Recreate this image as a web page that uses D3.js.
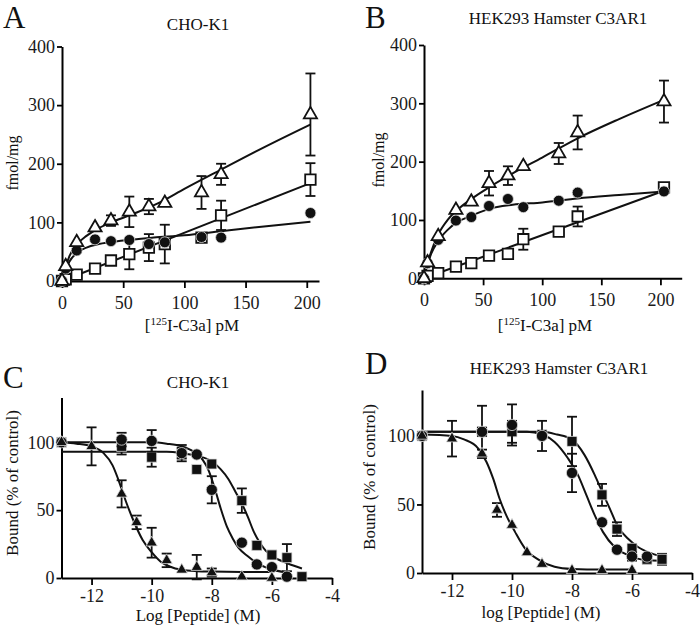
<!DOCTYPE html>
<html>
<head>
<meta charset="utf-8">
<script src="https://cdn.jsdelivr.net/npm/d3@7"></script>
<style>
  body { margin: 0; background: #fff; }
  svg { display: block; font-family: "Liberation Serif", "Times New Roman", serif; }
</style>
</head>
<body>
<svg id="chart" width="700" height="628"></svg>
<script>
// ---- saturation binding (A, B): x = [125I-C3a] pM ----
const concA = [0, 3, 12, 27, 40, 55, 71, 84, 114, 130, 203];
const totalA = [0, 25, 66, 91, 103, 118, 127, 133, 151, 182, 284];
const totalAErr = [0, 0, 0, 0, 9, 26, 13, 0, 28, 18, 70];
const specificA = [0, 21, 52, 71, 68, 70, 63, 66, 75, 74, 116];
const specificAErr = [0, 0, 3, 0, 0, 0, 0, 0, 4, 0, 0];
const nonspecA = [0, 3, 11, 21, 35, 46, 57, 63, 74, 112, 173];
const nonspecAErr = [0, 0, 0, 0, 4, 26, 23, 33, 5, 25, 28];

const concB = [0, 3, 12, 27, 40, 55, 71, 84, 114, 130, 203];
const totalB = [0, 27, 72, 117, 131, 163, 176, 192, 214, 250, 303];
const totalBErr = [0, 0, 0, 0, 0, 21, 16, 0, 18, 29, 36];
const specificB = [0, 26, 66, 99, 105, 124, 136, 122, 133, 147, 149];
const specificBErr = [0, 0, 0, 0, 0, 0, 0, 0, 0, 0, 0];
const nonspecB = [0, 4, 9, 20, 26, 39, 42, 67, 80, 106, 156];
const nonspecBErr = [0, 0, 0, 0, 0, 4, 0, 18, 0, 17, 0];

// fitted curves, [x, y]
const fitTotalA = [[0,0],[3,24],[6,42],[12,62],[20,77],[30,90],[45,104],[60,116],[80,134],[100,157],[130,190],[165,228],[203,267]];
const fitSpecificA = [[0,0],[3,20],[6,33],[12,48],[20,57],[30,63],[50,69],[75,74],[100,78],[130,85],[165,93],[203,101]];
const fitNonspecA = [[0,0],[203,167]];
const fitTotalB = [[0,0],[3,25],[6,45],[12,75],[20,100],[27,115],[40,136],[55,156],[75,180],[100,207],[130,240],[165,273],[203,306]];
const fitSpecificB = [[0,0],[3,24],[6,42],[12,64],[20,83],[27,95],[40,107],[55,119],[75,126],[100,130],[130,137],[165,143],[203,149]];
const fitNonspecB = [[0,0],[203,150]];

// ---- competition binding (C, D): x = log [Peptide] (M) ----
const logTriC = [-13, -12, -11, -10.5, -10, -9.5, -9, -8.5, -8, -7, -6];
const triC = [100, 97, 62, 41, 26, 13, 6, 8, 4, 1, 0];
const triCErr = [0, 14, 10, 5, 11, 5, 0, 9, 3, 0, 0];
const logCircC = [-13, -11, -10, -9, -8.5, -8, -7, -6.5, -6, -5.5];
const circC = [100, 102, 101, 92, 91, 65, 26, 10, 8, 1];
const circCErr = [0, 5, 8, 4, 0, 10, 0, 0, 0, 0];
const logSqC = [-13, -11, -10, -9, -8.5, -8, -7, -6.5, -6, -5.5, -5];
const sqC = [100, 97, 89, 92, 80, 84, 57, 24, 17, 15, 1];
const sqCErr = [0, 6, 7, 6, 0, 0, 9, 3, 3, 10, 0];

const logTriD = [-13, -12, -11, -10.5, -10, -9.5, -9, -8, -7, -6];
const triD = [100, 98, 87, 46, 35, 15, 6.5, 2, 2, 2];
const triDErr = [0, 13, 3, 5, 0, 0, 0, 0, 0, 0];
const logCircD = [-13, -11, -10, -9, -8, -7, -6.5, -6, -5.5];
const circD = [100, 103, 108, 100, 73, 37, 17, 12, 12];
const circDErr = [0, 3, 15, 11, 14, 0, 0, 3, 0];
const logSqD = [-13, -11, -10, -9, -8, -7, -6.5, -6, -5.5, -5];
const sqD = [100, 103, 103, 101, 96, 57, 32, 18, 10, 10];
const sqDErr = [0, 19, 8, 0, 18, 8, 5, 3, 3, 4];

const fitTriC = [[-13,100],[-12.5,99],[-12,97],[-11.6,92],[-11.3,83],[-11.1,72],[-10.85,56],[-10.6,42],[-10.3,28],[-10,19],[-9.7,12],[-9.4,8.5],[-9,6],[-8.5,5],[-8,4.7],[-7,4.5],[-6,4.5]];
const fitCircC = [[-13,100],[-10,100],[-9.5,99],[-9,97],[-8.6,93],[-8.3,87],[-8.1,79],[-7.9,66],[-7.7,51],[-7.5,38],[-7.3,29],[-7.1,22],[-6.8,16],[-6.5,11],[-6.1,7],[-5.5,4]];
const fitSqC = [[-13,93],[-9.5,93],[-9,92],[-8.5,90],[-8,86],[-7.7,80],[-7.45,73],[-7.2,63],[-7,55],[-6.8,45],[-6.6,34],[-6.4,26],[-6.2,20],[-5.9,15],[-5.45,10.5],[-5,7]];
const fitTriD = [[-13,101],[-12,100],[-11.6,97.5],[-11.13,91],[-10.85,81],[-10.63,69],[-10.41,54],[-10.19,42],[-9.9,30],[-9.57,18],[-9.12,9.7],[-8.58,4.6],[-8,3],[-7,2.5],[-6,2.5]];
const fitCircD = [[-13,103],[-9.5,103],[-9,101],[-8.58,95.6],[-8.13,83.5],[-7.8,71.4],[-7.52,56.8],[-7.24,42],[-6.97,30],[-6.58,19],[-6.13,13],[-5.58,9.5],[-5,9]];
const fitSqD = [[-13,103],[-9,103],[-8.5,101],[-8.02,97.6],[-7.58,86],[-7.24,71.4],[-7.02,60.5],[-6.74,47],[-6.47,33.7],[-6.13,25],[-5.8,19],[-5.35,14.3],[-5,12]];

const satTicksX = [0, 50, 100, 150, 200];
const satTicksY = [0, 100, 200, 300, 400];
const compTicksX = [-12, -10, -8, -6, -4];
const compTicksY = [0, 50, 100];

const svg = d3.select('#chart');
svg.append('rect').attr('width', 700).attr('height', 628).attr('fill', '#fff');

const shapes = { tri: d3.symbolTriangle, sq: d3.symbolSquare, circ: d3.symbolCircle };

function drawPanel(p) {
    const x = d3.scaleLinear().domain(p.xDomain).range(p.xRange);
    const y = d3.scaleLinear().domain(p.yDomain).range(p.yRange);
    const g = svg.append('g');

    // axes
    const xAxis = g.append('g')
        .attr('transform', `translate(0,${p.yRange[0]})`)
        .call(d3.axisBottom(x).tickValues(p.xTicks).tickSize(7).tickSizeOuter(0)
            .tickPadding(p.xPad).tickFormat(d => String(d)));
    const yAxis = g.append('g')
        .attr('transform', `translate(${p.xRange[0]},0)`)
        .call(d3.axisLeft(y).tickValues(p.yTicks).tickSize(5).tickSizeOuter(0)
            .tickPadding(2).tickFormat(d => String(d)));
    [xAxis, yAxis].forEach(a => {
        a.select('.domain').attr('stroke', '#000').attr('stroke-width', 2);
        a.selectAll('.tick line').attr('stroke', '#000').attr('stroke-width', 1.8);
        a.selectAll('.tick text').attr('fill', '#1a1a1a')
            .style('font-family', '"Liberation Serif", serif').style('font-size', '18px');
    });

    // fitted curves
    const line = d3.line().x(d => x(d[0])).y(d => y(d[1])).curve(d3.curveMonotoneX);
    p.fits.forEach(f => {
        g.append('path').attr('d', line(f))
            .attr('fill', 'none').attr('stroke', '#111').attr('stroke-width', 2);
    });

    // error bars then markers
    p.series.forEach(s => {
        const pts = s.xs.map((v, i) => ({ x: v, y: s.ys[i], e: s.errs[i] }));
        const eb = g.append('g').attr('stroke', '#111').attr('stroke-width', 1.8);
        pts.filter(d => d.e > 0).forEach(d => {
            const cx = x(d.x), y1 = y(d.y + d.e), y2 = y(d.y - d.e);
            eb.append('line').attr('x1', cx).attr('x2', cx).attr('y1', y1).attr('y2', y2);
            eb.append('line').attr('x1', cx - 5).attr('x2', cx + 5).attr('y1', y1).attr('y2', y1);
            eb.append('line').attr('x1', cx - 5).attr('x2', cx + 5).attr('y1', y2).attr('y2', y2);
        });
        g.append('g').selectAll('path').data(pts).join('path')
            .attr('transform', d => `translate(${x(d.x)},${y(d.y)})`)
            .attr('d', d3.symbol().type(shapes[s.shape]).size(s.size))
            .attr('fill', s.open ? '#fff' : '#111')
            .attr('stroke', s.open ? '#111' : '#ddd')
            .attr('stroke-width', s.open ? 1.8 : 0.8);
    });

    // texts
    svg.append('text').attr('x', p.letter[1]).attr('y', p.letter[2])
        .style('font-size', '31px').attr('fill', '#111').text(p.letter[0]);
    svg.append('text').attr('x', p.title[1]).attr('y', p.title[2])
        .attr('text-anchor', 'middle').style('font-size', '17px').attr('fill', '#111').text(p.title[0]);
    svg.append('text')
        .attr('transform', `translate(${p.yLabel[1]},${p.yLabel[2]}) rotate(-90)`)
        .attr('text-anchor', 'middle').style('font-size', p.yLabel[3]).attr('fill', '#111').text(p.yLabel[0]);
    const xl = svg.append('text').attr('x', p.xLabel[1]).attr('y', p.xLabel[2])
        .attr('text-anchor', 'middle').style('font-size', '17px').attr('fill', '#111');
    if (p.xLabel[0] === 'sat') {
        xl.append('tspan').text('[');
        xl.append('tspan').attr('dy', -6).style('font-size', '11px').text('125');
        xl.append('tspan').attr('dy', 6).text('I-C3a] pM');
    } else {
        xl.text(p.xLabel[0]);
    }
}

drawPanel({
    xDomain: [0, 210], xRange: [62, 319], yDomain: [0, 400], yRange: [281, 46.5],
    xTicks: satTicksX, yTicks: satTicksY, xPad: 8,
    fits: [fitTotalA, fitSpecificA, fitNonspecA],
    series: [
        { xs: concA, ys: nonspecA, errs: nonspecAErr, shape: 'sq', size: 110, open: true },
        { xs: concA, ys: specificA, errs: specificAErr, shape: 'circ', size: 95, open: false },
        { xs: concA, ys: totalA, errs: totalAErr, shape: 'tri', size: 75, open: true }
    ],
    letter: ['A', 3, 28], title: ['CHO-K1', 198, 30],
    yLabel: ['fmol/mg', 18, 163, '16px'], xLabel: ['sat', 192, 331]
});

drawPanel({
    xDomain: [0, 218], xRange: [424, 681.7], yDomain: [0, 400], yRange: [278.3, 45],
    xTicks: satTicksX, yTicks: satTicksY, xPad: 8,
    fits: [fitTotalB, fitSpecificB, fitNonspecB],
    series: [
        { xs: concB, ys: nonspecB, errs: nonspecBErr, shape: 'sq', size: 110, open: true },
        { xs: concB, ys: specificB, errs: specificBErr, shape: 'circ', size: 95, open: false },
        { xs: concB, ys: totalB, errs: totalBErr, shape: 'tri', size: 75, open: true }
    ],
    letter: ['B', 365, 28], title: ['HEK293 Hamster C3AR1', 558, 24],
    yLabel: ['fmol/mg', 384, 160, '16px'], xLabel: ['sat', 545, 331]
});

drawPanel({
    xDomain: [-13, -4], xRange: [61.5, 332], yDomain: [0, 133], yRange: [578, 397.5],
    xTicks: compTicksX, yTicks: compTicksY, xPad: 4,
    fits: [fitTriC, fitCircC, fitSqC],
    series: [
        { xs: logSqC, ys: sqC, errs: sqCErr, shape: 'sq', size: 100, open: false },
        { xs: logCircC, ys: circC, errs: circCErr, shape: 'circ', size: 100, open: false },
        { xs: logTriC, ys: triC, errs: triCErr, shape: 'tri', size: 55, open: false }
    ],
    letter: ['C', 3, 388], title: ['CHO-K1', 198, 388],
    yLabel: ['Bound (% of control)', 18, 483, '17px'], xLabel: ['Log [Peptide] (M)', 198, 621]
});

drawPanel({
    xDomain: [-13, -4], xRange: [422, 692], yDomain: [0, 133.5], yRange: [573, 390],
    xTicks: compTicksX, yTicks: compTicksY, xPad: 4,
    fits: [fitTriD, fitCircD, fitSqD],
    series: [
        { xs: logSqD, ys: sqD, errs: sqDErr, shape: 'sq', size: 100, open: false },
        { xs: logCircD, ys: circD, errs: circDErr, shape: 'circ', size: 100, open: false },
        { xs: logTriD, ys: triD, errs: triDErr, shape: 'tri', size: 55, open: false }
    ],
    letter: ['D', 365, 374], title: ['HEK293 Hamster C3AR1', 559, 374],
    yLabel: ['Bound (% of control)', 375, 477, '17px'], xLabel: ['log [Peptide] (M)', 541, 618]
});
</script>
</body>
</html>
